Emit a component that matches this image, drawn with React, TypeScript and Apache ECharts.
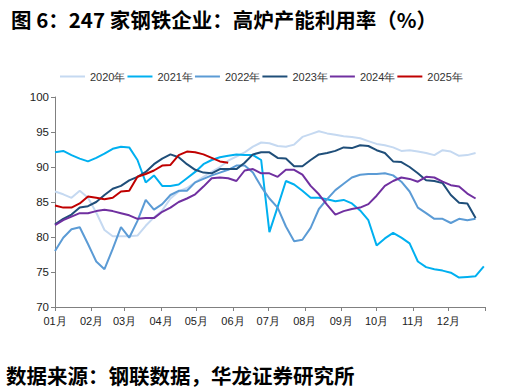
import React, { useEffect, useRef } from "react";
import * as echarts from "echarts";

const seriesNames = ["2020年", "2021年", "2022年", "2023年", "2024年", "2025年"];
const monthLabels = ["01月", "02月", "03月", "04月", "05月", "06月", "07月", "08月", "09月", "10月", "11月", "12月"];
const monthStartDays = [0, 31, 59, 90, 120, 151, 181, 212, 243, 273, 304, 334];
const yearEndDay = 365;

const v2020 = [86.5, 86.1, 85.6, 86.6, 85.6, 83.5, 81.0, 80.1, 80.1, 80.1, 80.2, 81.6, 82.8,
  83.8, 85.5, 86.5, 87.0, 87.8, 88.6, 89.3, 90.0, 90.9, 91.5, 92.1, 92.9, 93.5,
  93.4, 93.0, 92.9, 93.2, 94.3, 94.7, 95.1, 94.8, 94.6, 94.4, 94.3, 94.1, 93.7, 93.3,
  93.1, 92.8, 92.3, 92.4, 92.2, 92.0, 91.7, 92.4, 92.2, 91.6, 91.7, 92.0];
const v2021 = [92.1, 92.3, 91.7, 91.2, 90.8, 91.3, 91.9, 92.6, 92.9, 92.8, 91.0, 87.8, 88.8,
  87.3, 87.3, 87.5, 88.4, 89.3, 90.4, 91.0, 91.4, 91.6, 91.8, 91.7, 91.7, 91.0,
  80.7, 84.3, 88.0, 87.5, 86.6, 85.6, 85.6, 85.4, 85.1, 85.3, 84.8, 83.8, 82.4, 78.8,
  79.8, 80.6, 79.9, 79.1, 76.5, 75.7, 75.4, 75.2, 74.9, 74.2, 74.3, 74.4, 75.8];
const v2022 = [78.0, 79.9, 81.1, 81.4, 79.0, 76.5, 75.4, 78.3, 81.4, 79.9, 82.3, 85.3, 83.9,
  84.7, 86.0, 86.6, 86.6, 87.8, 88.3, 88.8, 89.2, 89.6, 90.2, 90.2, 89.2, 87.2,
  85.5, 84.2, 81.5, 79.4, 79.6, 81.3, 84.0, 85.4, 86.7, 87.6, 88.5, 88.9, 89.0, 89.0,
  89.1, 88.8, 87.9, 86.5, 84.2, 83.4, 82.6, 82.6, 82.0, 82.6, 82.4, 82.6];
const v2023 = [81.8, 82.6, 83.2, 84.2, 84.4, 85.0, 86.0, 86.9, 87.3, 88.1, 88.6, 89.3, 90.4,
  91.2, 91.8, 91.4, 90.4, 89.6, 89.2, 89.1, 89.7, 89.7, 89.7, 90.6, 91.8, 92.1,
  92.1, 91.3, 91.2, 90.1, 90.1, 91.0, 91.8, 92.0, 92.3, 92.8, 92.7, 93.1, 93.0, 92.4,
  92.0, 90.8, 90.7, 90.0, 89.1, 88.1, 88.0, 87.7, 86.0, 84.9, 84.8, 82.7];
const v2024 = [81.7, 82.4, 82.9, 83.4, 83.4, 83.7, 83.9, 83.7, 83.4, 83.1, 82.6, 82.7, 82.7,
  83.6, 84.2, 85.0, 85.5, 86.1, 87.2, 88.4, 88.5, 88.4, 88.0, 89.5, 89.7, 89.1,
  89.1, 88.6, 89.6, 89.6, 88.9, 87.3, 86.1, 84.6, 83.2, 83.7, 84.0, 84.2, 84.7, 85.9,
  87.3, 88.0, 88.5, 88.3, 87.9, 88.6, 88.5, 87.9, 87.4, 87.2, 86.2, 85.5];
const v2025 = [84.5, 84.2, 84.2, 84.8, 85.8, 85.6, 85.4, 85.6, 86.5, 86.6, 88.6, 89.0, 89.5,
  90.2, 90.3, 91.7, 92.2, 92.1, 91.8, 91.3, 90.8, 90.6];

const seriesValues = [v2020, v2021, v2022, v2023, v2024, v2025];
const colors = ["#C5D9F1", "#00B0F0", "#5B9BD5", "#1F4E79", "#7030A0", "#C00000"];

const titleText = "图 6：247 家钢铁企业：高炉产能利用率（%）";
const sourceText = "数据来源：钢联数据，华龙证券研究所";

const DAYS_PER_WEEK = 7;

export default function App() {
  const ref = useRef<HTMLDivElement>(null);
  useEffect(() => {
    if (!ref.current) return;
    const chart = echarts.init(ref.current, undefined, { renderer: "svg" });
    const font = "'Liberation Sans', Arial, sans-serif";
    const cjk = "'Noto Sans CJK SC', sans-serif";
    chart.setOption({
      animation: false,
      backgroundColor: "#ffffff",
      title: {
        text: titleText,
        left: 6,
        top: 4,
        textStyle: { fontFamily: cjk, fontSize: 20.5, fontWeight: "bold", color: "#000" },
      },
      graphic: [
        {
          type: "text",
          left: 6,
          top: 365,
          style: { text: sourceText, fontFamily: cjk, fontSize: 20.5, fontWeight: "bold", fill: "#000" },
        },
      ],
      legend: {
        data: seriesNames.map((name) => ({ name, icon: "rect" })),
        left: 55,
        top: 66,
        itemWidth: 25,
        itemHeight: 2,
        itemGap: 2,
        textStyle: { fontFamily: font, fontSize: 11, color: "#333" },
      },
      grid: { left: 55, right: 36, top: 97, bottom: 85 },
      xAxis: {
        type: "value",
        min: 0,
        max: yearEndDay,
        splitLine: { show: false },
        axisLine: { show: true, lineStyle: { color: "#808080", width: 1 } },
        axisTick: { show: true, length: 4, customValues: [...monthStartDays, yearEndDay], lineStyle: { color: "#808080" } },
        axisLabel: {
          customValues: monthStartDays,
          formatter: (v: number) => monthLabels[monthStartDays.indexOf(v)] ?? "",
          fontFamily: font,
          fontSize: 11,
          color: "#222",
          margin: 8,
        },
      },
      yAxis: {
        type: "value",
        min: 70,
        max: 100,
        interval: 5,
        splitLine: { show: false },
        axisLine: { show: true, lineStyle: { color: "#808080", width: 1 } },
        axisTick: { show: true, length: 4, lineStyle: { color: "#808080" } },
        axisLabel: { fontFamily: font, fontSize: 11.5, color: "#222", margin: 6 },
      },
      series: seriesNames.map((name, k) => ({
        name,
        type: "line",
        symbol: "none",
        smooth: false,
        data: seriesValues[k].map((v, i) => [i * DAYS_PER_WEEK, v]),
        lineStyle: { color: colors[k], width: 2 },
        itemStyle: { color: colors[k] },
        z: k + 2,
      })),
    });
    return () => chart.dispose();
  }, []);
  return <div ref={ref} style={{ width: 521, height: 392, position: "absolute", left: 0, top: 0 }} />;
}
